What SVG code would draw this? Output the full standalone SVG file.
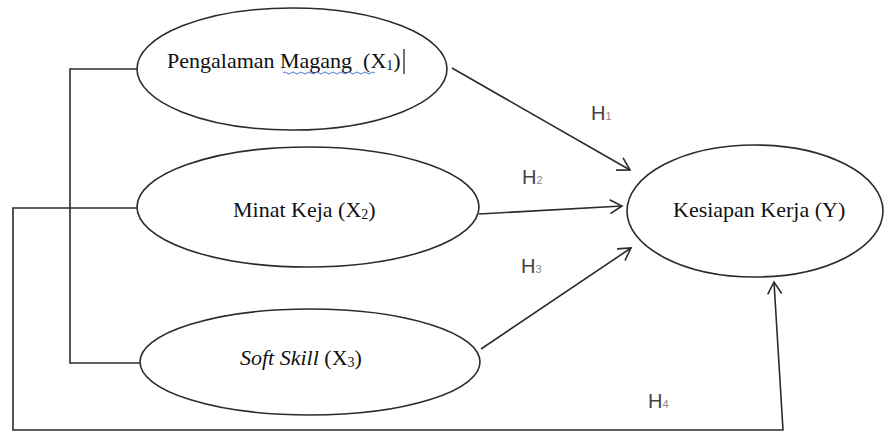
<svg xmlns="http://www.w3.org/2000/svg" width="885" height="432" viewBox="0 0 885 432">
<defs>
<marker id="arr" markerUnits="userSpaceOnUse" markerWidth="20" markerHeight="20" viewBox="-14 -10 16 20" refX="0" refY="0" orient="auto">
<path d="M-12,-7 L0,0 L-12,7" fill="none" stroke="#2b2b2b" stroke-width="1.6"/>
</marker>
<style>
.node ellipse{fill:#fff;stroke:#2b2b2b;stroke-width:1.6}
.lbl{font-family:"Liberation Serif","Times New Roman",serif;font-size:22px;fill:#111}
.sub{font-size:14px}
.conn line,.conn polyline{fill:none;stroke:#2b2b2b;stroke-width:1.6}
.h{font-family:"Liberation Sans",Arial,sans-serif;font-size:20px;fill:#444}
.hs{font-size:11px;fill:#888}
</style>
</defs>
<rect width="885" height="432" fill="#fff"/>
<g id="connectors" class="conn">
<polyline points="137,69 70,69 70,363 140,363"/>
<polyline points="137,208 13,208 13,430 783,430 774,282" marker-end="url(#arr)"/>
<line x1="452" y1="68" x2="630" y2="170" marker-end="url(#arr)"/>
<line x1="479" y1="214" x2="622" y2="206" marker-end="url(#arr)"/>
<line x1="481" y1="349" x2="631" y2="248" marker-end="url(#arr)"/>
</g>
<g id="x1" class="node">
<ellipse cx="292" cy="69" rx="155" ry="61"/>
<text class="lbl" x="167" y="68" xml:space="preserve">Pengalaman Magang  (X<tspan class="sub" dy="2">1</tspan><tspan dy="-2">)</tspan></text>
<path d="M283,73 q2,-2 4,0 t4,0 t4,0 t4,0 t4,0 t4,0 t4,0 t4,0 t4,0 t4,0 t4,0 t4,0 t4,0 t4,0 t4,0 t4,0 t4,0 t4,0 t4,0 t4,0 t4,0 t4,0 t4,0" fill="none" stroke="#4a78d6" stroke-width="1"/>
<line x1="404" y1="49" x2="404" y2="74" stroke="#111" stroke-width="1.2"/>
</g>
<g id="x2" class="node">
<ellipse cx="308" cy="207" rx="171" ry="60"/>
<text class="lbl" x="233" y="217">Minat Keja (X<tspan class="sub" dy="2">2</tspan><tspan dy="-2">)</tspan></text>
</g>
<g id="x3" class="node">
<ellipse cx="310" cy="362" rx="170" ry="53"/>
<text class="lbl" x="240" y="365"><tspan font-style="italic">Soft Skill</tspan> (X<tspan class="sub" dy="2">3</tspan><tspan dy="-2">)</tspan></text>
</g>
<g id="y" class="node">
<ellipse cx="755" cy="211" rx="128" ry="66"/>
<text class="lbl" x="673" y="217">Kesiapan Kerja (Y)</text>
</g>
<g id="labels">
<text class="h" x="591" y="120">H<tspan class="hs">1</tspan></text>
<text class="h" x="522" y="184">H<tspan class="hs">2</tspan></text>
<text class="h" x="521" y="273">H<tspan class="hs">3</tspan></text>
<text class="h" x="648" y="408">H<tspan class="hs">4</tspan></text>
</g>
</svg>
